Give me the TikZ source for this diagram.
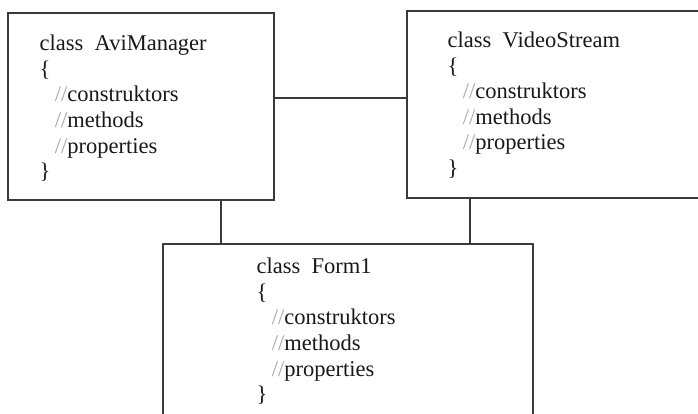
\documentclass[tikz,border=0pt]{standalone}
\usepackage{fontspec}
\setmainfont{Liberation Serif}
\usetikzlibrary{positioning}
\definecolor{linegray}{HTML}{3A3A3A}
\definecolor{slashgray}{HTML}{A8A8A8}
\newcommand{\cmt}{{\color{slashgray}//}}
\newcommand{\classbody}[1]{class\ \ #1\\ \{\\
  \hspace*{0.38cm}\cmt construktors\\
  \hspace*{0.38cm}\cmt methods\\
  \hspace*{0.38cm}\cmt properties\\ \}}

\begin{document}
\begin{tikzpicture}[x=0.025cm, y=-0.025cm]
  \tikzstyle{classbox}=[rectangle,draw=linegray,line width=0.8pt,fill=white]
  \tikzstyle{classtext}=[inner sep=0pt,align=left,text=black!90,
    font=\fontsize{16}{18.2}\selectfont]
  \useasboundingbox[fill=white] (0,0) rectangle (698,414);
  \clip (0,0) rectangle (698,414);
  % the three classes
  \node[classbox, minimum width=6.65cm, minimum height=4.675cm] (avi) at (141,106.5) {};
  \node[classbox, minimum width=7.575cm, minimum height=4.675cm] (video) at (558.5,104.5) {};
  \node[classbox, minimum width=9.25cm, minimum height=4.9cm] (form) at (348,342) {};
  \node[classtext, below right=0.56cm and 0.8cm of avi.north west] (avitxt) {\classbody{AviManager}};
  \node[classtext, below right=0.53cm and 1.025cm of video.north west] (videotxt) {\classbody{VideoStream}};
  \node[classtext, below right=0.36cm and 2.35cm of form.north west] (formtxt) {\classbody{Form1}};
  % links
  \draw[linegray, line width=0.8pt]
    ([yshift=0.2125cm]avi.east) -- ([yshift=0.2125cm]avi.east -| video.west)
    ([xshift=2cm]avi.south) -- ([xshift=2cm]avi.south |- form.north)
    ([xshift=-2.2125cm]video.south) -- ([xshift=-2.2125cm]video.south |- form.north);
\end{tikzpicture}
\end{document}
